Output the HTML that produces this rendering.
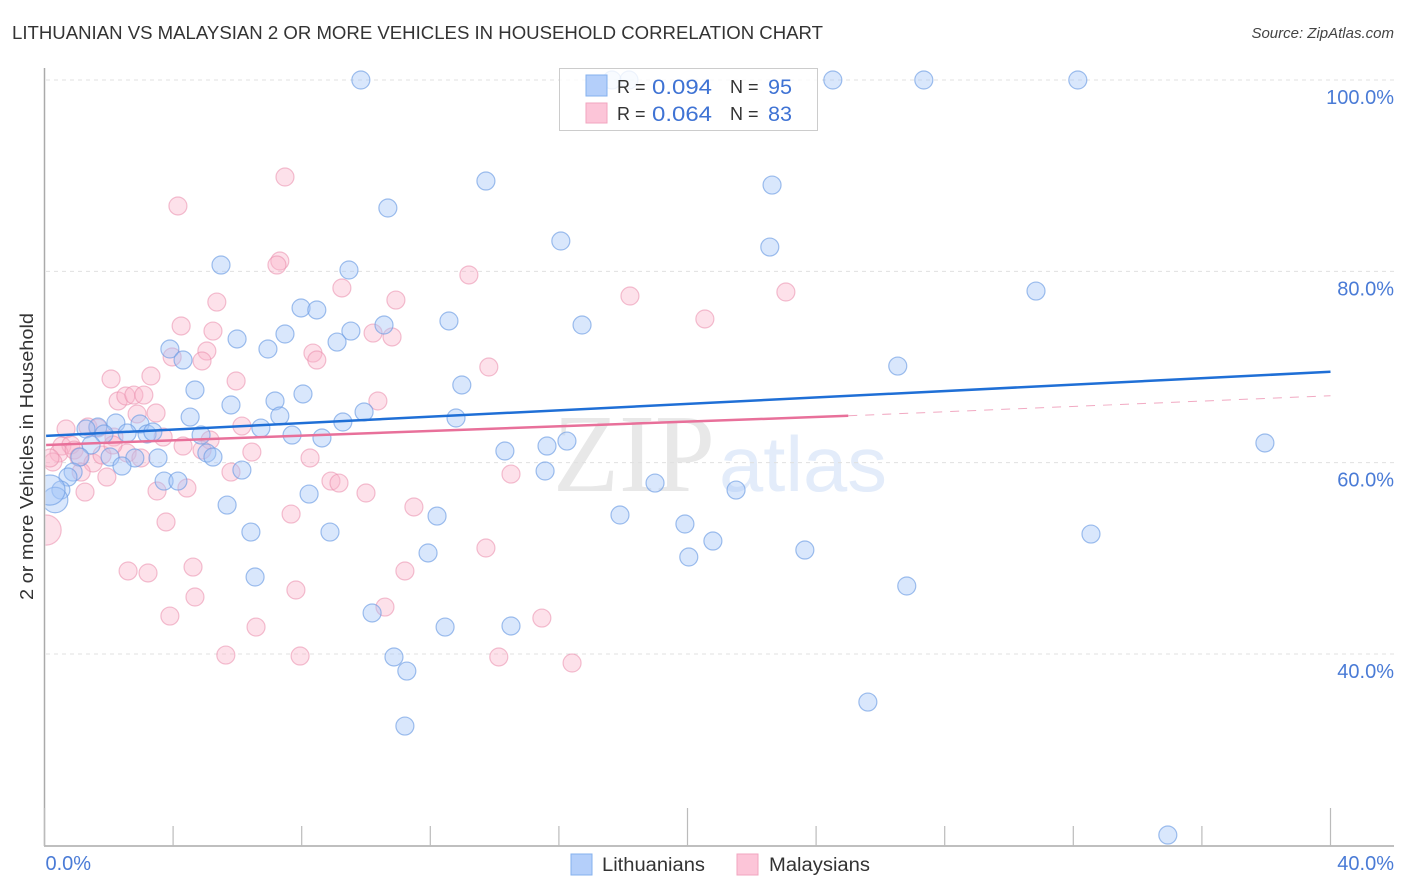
<!DOCTYPE html>
<html lang="en">
<head>
<meta charset="utf-8">
<title>Lithuanian vs Malaysian 2 or more Vehicles in Household Correlation Chart</title>
<style>
html,body{margin:0;padding:0;background:#fff;}
svg{display:block;font-family:"Liberation Sans",sans-serif;}
</style>
</head>
<body>
<svg id="chart" width="1406" height="892" viewBox="0 0 1406 892" xmlns="http://www.w3.org/2000/svg">
  <defs>
    <clipPath id="plot-clip"><rect x="45.5" y="60" width="1350" height="785"/></clipPath>
  </defs>
  <rect x="0" y="0" width="1406" height="892" fill="#ffffff"/>
  <text x="12" y="39" font-size="18.5" fill="#333333" textLength="811" lengthAdjust="spacingAndGlyphs">LITHUANIAN VS MALAYSIAN 2 OR MORE VEHICLES IN HOUSEHOLD CORRELATION CHART</text>
  <text x="1394" y="38" font-size="15" font-style="italic" fill="#444444" text-anchor="end">Source: ZipAtlas.com</text>
  <text transform="translate(33,600) rotate(-90)" font-size="18.5" fill="#333333" textLength="287" lengthAdjust="spacingAndGlyphs">2 or more Vehicles in Household</text>
  <g>
    <text x="553" y="491" font-family="'Liberation Serif',serif" font-size="111" fill="#e8e8e8" textLength="162" lengthAdjust="spacingAndGlyphs">ZIP</text>
    <text x="719" y="491" font-size="78" fill="#e3ecfa" textLength="168" lengthAdjust="spacingAndGlyphs">atlas</text>
  </g>
  <g id="grid"></g>
  <g id="axes"></g>
  <g id="points" clip-path="url(#plot-clip)"></g>
  <g id="trends"></g>
  <g id="ticklabels"></g>

  <g>
    <rect x="559.5" y="68.5" width="258" height="62" fill="#ffffff" fill-opacity="0.82" stroke="#cccccc" stroke-width="1"/>
    <rect x="586" y="75" width="21" height="21" fill="#b4cffa" stroke="#85b0ee" stroke-width="1"/>
    <rect x="586" y="103" width="21" height="20" fill="#fcc5d8" stroke="#f2a5bf" stroke-width="1"/>
    <text x="617" y="93" font-size="18" fill="#333333">R =</text>
    <text x="652" y="94" font-size="21" fill="#3f73d4" textLength="60" lengthAdjust="spacingAndGlyphs">0.094</text>
    <text x="730" y="93" font-size="18" fill="#333333">N =</text>
    <text x="768" y="94" font-size="21" fill="#3f73d4" textLength="24" lengthAdjust="spacingAndGlyphs">95</text>
    <text x="617" y="120" font-size="18" fill="#333333">R =</text>
    <text x="652" y="121" font-size="21" fill="#3f73d4" textLength="60" lengthAdjust="spacingAndGlyphs">0.064</text>
    <text x="730" y="120" font-size="18" fill="#333333">N =</text>
    <text x="768" y="121" font-size="21" fill="#3f73d4" textLength="24" lengthAdjust="spacingAndGlyphs">83</text>
  </g>

  <g>
    <rect x="571" y="854" width="21" height="21" fill="#b4cffa" stroke="#85b0ee" stroke-width="1"/>
    <text x="602" y="871" font-size="19" fill="#333333" textLength="103" lengthAdjust="spacingAndGlyphs">Lithuanians</text>
    <rect x="737" y="854" width="21" height="21" fill="#fcc5d8" stroke="#f2a5bf" stroke-width="1"/>
    <text x="769" y="871" font-size="19" fill="#333333" textLength="101" lengthAdjust="spacingAndGlyphs">Malaysians</text>
  </g>
</svg>

<script>
// Chart data (percent units)
const yTickValues = [100, 80, 60, 40];
const yTickLabels = ["100.0%", "80.0%", "60.0%", "40.0%"];
const xTickValues = [0, 4, 8, 12, 16, 20, 24, 28, 32, 36, 40];
const xMajorTickValues = [0, 20, 40];
const xEndLabels = ["0.0%", "40.0%"];

const lithuanianX = [9.84,17.65,18.18,24.52,27.35,32.14,13.73,22.63,10.68,16.06,22.56,5.49,9.47,30.84,7.98,8.47,16.72,12.58,10.56,9.53,7.48,9.10,5.99,6.95,3.90,4.31,26.54,12.98,4.68,8.04,7.17,5.80,7.32,9.94,4.53,12.80,9.28,2.97,2.22,1.66,1.29,6.73,7.70,8.63,2.57,3.19,3.37,4.87,1.85,1.45,37.96,14.32,15.63,16.25,5.05,5.24,2.04,3.53,2.81,1.10,2.41,6.14,0.89,15.57,3.72,4.15,0.73,18.99,21.51,0.51,8.23,0.33,0.17,5.68,12.21,17.90,19.92,6.42,8.88,32.55,20.79,23.65,11.93,20.04,6.55,26.82,10.19,12.46,14.51,10.87,11.27,25.61,11.21,34.94];
const lithuanianY = [100,100,100,100,100,100,89.44,89.02,86.62,83.17,82.54,80.66,80.14,77.94,76.17,75.96,74.39,74.81,74.39,73.76,73.45,72.61,72.93,71.88,71.88,70.73,70.10,68.12,67.60,67.18,66.45,66.03,64.88,65.30,64.77,64.67,64.25,64.04,64.15,63.73,63.52,63.62,62.89,62.58,63.10,63.00,63.21,62.89,63.00,61.85,62.06,61.22,61.74,62.26,61.01,60.59,60.59,60.49,60.49,60.59,59.65,59.23,59.02,59.13,58.08,58.08,58.50,57.87,57.14,57.14,56.72,56.10,57.14,55.57,54.42,54.53,53.59,52.75,52.75,52.54,51.81,50.87,50.56,50.14,48.05,47.11,44.29,42.82,42.93,39.69,38.22,34.98,32.47,21.08];
// Relative sample weight of the few heavy points; others default to 1.
const lithuanianHeavyX = [0.33, 0.17];
const lithuanianHeavyWeight = [2, 2.8];

const malaysianX = [7.48,4.15,7.32,7.23,13.20,9.25,5.36,18.21,23.06,10.93,4.25,20.54,5.24,10.22,10.81,5.05,8.35,3.97,8.47,4.90,13.82,5.96,2.07,3.31,2.29,10.37,2.53,2.78,3.09,2.88,3.47,1.35,1.66,0.67,6.14,2.16,3.69,0.54,0.82,4.31,5.15,0.45,0.92,4.90,6.45,0.26,1.07,1.51,1.79,2.57,3.00,8.26,1.14,1.94,5.80,14.51,8.91,9.16,4.43,3.50,1.26,10.00,11.49,7.67,3.78,0.05,13.73,4.62,2.60,3.22,11.21,7.82,4.68,10.59,3.90,15.47,6.58,5.64,7.95,14.13,16.41,0.17,2.13];
const malaysianY = [89.86,86.83,81.08,80.66,79.62,78.26,76.79,77.42,77.84,77.00,74.29,75.02,73.76,73.55,73.14,71.67,71.46,71.05,70.73,70.63,70.00,68.54,68.75,69.06,66.45,66.45,66.97,67.07,67.07,65.09,65.19,63.73,63.62,63.52,63.83,62.68,62.68,61.74,61.85,61.74,62.37,61.01,61.32,61.32,61.11,60.07,60.59,59.97,60.80,61.01,60.49,60.49,59.02,58.50,59.02,58.81,58.08,57.87,57.35,57.04,56.93,56.83,55.37,54.63,53.80,52.96,51.08,49.09,48.68,48.47,48.68,46.69,45.96,44.91,43.97,43.76,42.82,39.89,39.79,39.69,39.06,60.49,61.85];
const malaysianHeavyX = [0.05];
const malaysianHeavyWeight = [2.8];

const lithuanianTrendX = [0.05, 40];
const lithuanianTrendY = [62.8, 69.5];
const malaysianTrendX = [0.05, 25];
const malaysianTrendY = [61.85, 64.9];
const malaysianProjectionX = [25, 40];
const malaysianProjectionY = [64.9, 67.0];

// Axis functions
const SVGNS = "http://www.w3.org/2000/svg";
function xScale(v) { return 44.5 + v * 32.15; }
function yScale(v) { return 80 + (100 - v) * 9.567; }
function radiusOf(weight) { return 9 * Math.sqrt(weight); }
function make(tag, attrs, parentId) {
  const el = document.createElementNS(SVGNS, tag);
  for (const k in attrs) el.setAttribute(k, attrs[k]);
  document.getElementById(parentId).appendChild(el);
  return el;
}

// Gridlines and y labels
yTickValues.forEach(function (v, i) {
  const line = make("line", {x1: 46, x2: 1394, y1: yScale(v), y2: yScale(v), stroke: "#e0e0e0", "stroke-width": 1, "stroke-dasharray": "4 4"}, "grid");
  
  
  const label = make("text", {x: 1394, y: yScale(v) + 24, "text-anchor": "end", "font-size": 20, fill: "#4a7bd6"}, "ticklabels");
  label.textContent = yTickLabels[i];
  
  
});

// Axes
const yAxis = make("line", {x1: 44.5, x2: 44.5, y1: 68, y2: 846, stroke: "#aaaaaa", "stroke-width": 1.5}, "axes");


const xAxis = make("line", {x1: 44, x2: 1394, y1: 846, y2: 846, stroke: "#aaaaaa", "stroke-width": 1.5}, "axes");


xTickValues.forEach(function (v) {
  const top = xMajorTickValues.indexOf(v) >= 0 ? 808 : 826;
  const tick = make("line", {x1: xScale(v), x2: xScale(v), y1: top, y2: 846, stroke: "#bbbbbb", "stroke-width": 1.2}, "axes");
  
  
});
const xLabelLeft = make("text", {x: xScale(xTickValues[0]) + 1, y: 870, "font-size": 20, fill: "#4a7bd6"}, "ticklabels");
xLabelLeft.textContent = xEndLabels[0];


const xLabelRight = make("text", {x: 1394, y: 870, "text-anchor": "end", "font-size": 20, fill: "#4a7bd6"}, "ticklabels");
xLabelRight.textContent = xEndLabels[1];



// Points
function weightOf(x, heavyX, heavyWeight) {
  const i = heavyX.indexOf(x);
  return i >= 0 ? heavyWeight[i] : 1;
}
malaysianX.forEach(function (x, i) {
  const c = make("circle", {cx: xScale(x), cy: yScale(malaysianY[i]), r: radiusOf(weightOf(x, malaysianHeavyX, malaysianHeavyWeight)), fill: "#fab4cb", "fill-opacity": 0.4, stroke: "#ea8dab", "stroke-opacity": 0.55, "stroke-width": 1.2}, "points");
  
  
});
lithuanianX.forEach(function (x, i) {
  const c = make("circle", {cx: xScale(x), cy: yScale(lithuanianY[i]), r: radiusOf(weightOf(x, lithuanianHeavyX, lithuanianHeavyWeight)), fill: "#a5c6f7", "fill-opacity": 0.42, stroke: "#6d9de3", "stroke-opacity": 0.65, "stroke-width": 1.2}, "points");
  
  
});

// Trend lines
const projection = make("line", {x1: xScale(malaysianProjectionX[0]), y1: yScale(malaysianProjectionY[0]), x2: xScale(malaysianProjectionX[1]), y2: yScale(malaysianProjectionY[1]), stroke: "#e8709a", "stroke-width": 1, "stroke-dasharray": "9 8", "stroke-opacity": 0.6}, "trends");


const pinkTrend = make("line", {x1: xScale(malaysianTrendX[0]), y1: yScale(malaysianTrendY[0]), x2: xScale(malaysianTrendX[1]), y2: yScale(malaysianTrendY[1]), stroke: "#e8709a", "stroke-width": 2.5}, "trends");


const blueTrend = make("line", {x1: xScale(lithuanianTrendX[0]), y1: yScale(lithuanianTrendY[0]), x2: xScale(lithuanianTrendX[1]), y2: yScale(lithuanianTrendY[1]), stroke: "#1f6fd6", "stroke-width": 2.5}, "trends");


</script>
</body>
</html>
